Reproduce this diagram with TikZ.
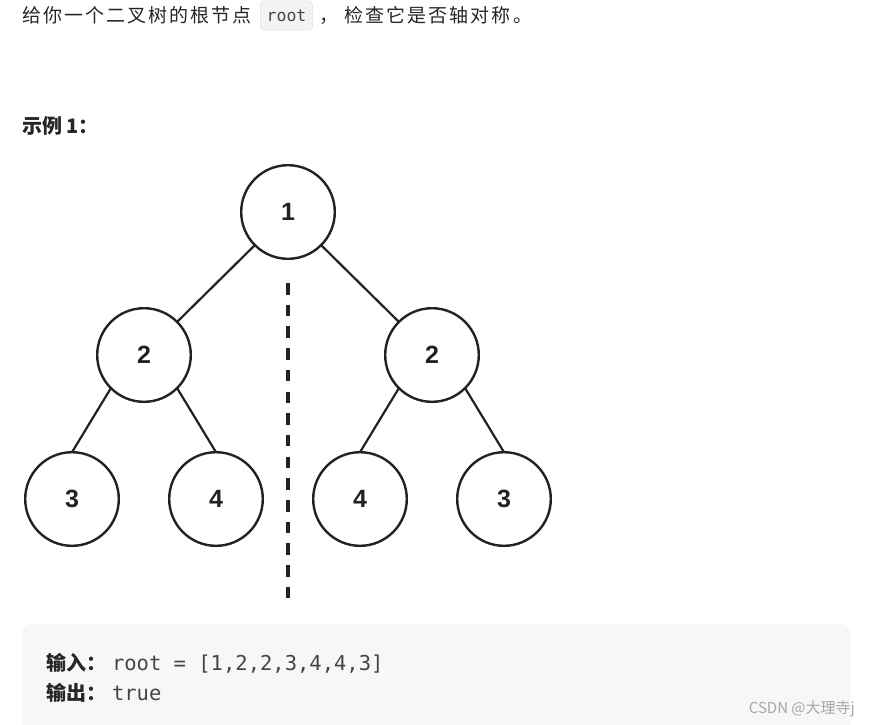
\documentclass[tikz,border=0pt]{standalone}
\usepackage{fontspec}
\setmainfont{Liberation Sans}
\newfontfamily\cjk[LetterSpace=11]{Noto Sans CJK SC}
\newfontfamily\cjkplain{Noto Sans CJK SC}
\newfontfamily\monof{DejaVu Sans Mono}
\definecolor{txt}{HTML}{262626}
\definecolor{boxbg}{HTML}{F7F7F7}
\definecolor{codebg}{HTML}{F3F3F3}
\definecolor{codeln}{HTML}{E6E6E6}
\definecolor{codetxt}{HTML}{454545}
\definecolor{wm}{HTML}{A6A6A6}
\definecolor{ink}{HTML}{222222}
\begin{document}
\begin{tikzpicture}[x=1pt,y=-1pt,
  tn/.style={circle, draw=ink, line width=2.4pt, fill=white, minimum size=93.6pt,
    inner sep=0pt, outer sep=0pt, text=ink, font=\fontsize{25}{25}\selectfont\bfseries},
  edge/.style={draw=ink, line width=2.2pt},
  symline/.style={draw=ink, line width=4pt, dash pattern=on 11.5pt off 10.2pt},
  cn/.style={inner sep=0pt, outer sep=0pt, anchor=base west, text=txt},
]
\useasboundingbox (0,0) rectangle (869,724);
\clip (0,0) rectangle (869,724);
\fill[white] (0,0) rectangle (869,724);

% top line
\node[cn, font=\cjk\fontsize{19}{19}\selectfont] (t1) at (22,22) {给你一个二叉树的根节点};
\node[fill=codebg, draw=codeln, line width=0.6pt, rounded corners=4pt, minimum width=52pt, minimum height=29pt,
  inner sep=0pt, text=codetxt, font=\monof\fontsize{16.5}{16.5}\selectfont] (code) at (286.5,15.5) {root};
\node[cn, font=\cjk\fontsize{19}{19}\selectfont] (t2) at (319,22) {， 检查它是否轴对称。};

% example title
\node[cn, font=\cjkplain\fontsize{20}{20}\selectfont\bfseries] (ex) at (22,133) {示例 1：};

% tree
\node[tn] (r) at (288,212) {1};
\node[tn] (l) at (144,355) {2};
\node[tn] (rr) at (432,355) {2};
\node[tn] (ll) at (72,499) {3};
\node[tn] (lr) at (216,499) {4};
\node[tn] (rl) at (360,499) {4};
\node[tn] (rrr) at (504,499) {3};

\draw[edge] (r.south west) -- (l.north east);
\draw[edge] (r.south east) -- (rr.north west);
\draw[edge] (l.south west) -- (ll.north);
\draw[edge] (l.south east) -- (lr.north);
\draw[edge] (rr.south west) -- (rl.north);
\draw[edge] (rr.south east) -- (rrr.north);

\coordinate (dtop) at (288,283);
\coordinate (dbot) at (288,599);
\draw[symline] (dtop) -- (dbot);

% example box
\fill[boxbg, rounded corners=9pt] (22,624) rectangle (850,760);
\node[cn, font=\cjkplain\fontsize{20}{20}\selectfont\bfseries] (in) at (46,670) {输入：};
\node[cn, text=codetxt, font=\monof\fontsize{20.5}{20.5}\selectfont] (inv) at (112,670) {root = [1,2,2,3,4,4,3]};
\node[cn, font=\cjkplain\fontsize{20}{20}\selectfont\bfseries] (out) at (46,700) {输出：};
\node[cn, text=codetxt, font=\monof\fontsize{20.5}{20.5}\selectfont] (outv) at (112,700) {true};

% watermark
\node[inner sep=0pt, anchor=base east, text=wm, font=\cjkplain\fontsize{15}{15}\selectfont] (wmk) at (855,713) {CSDN @大理寺j};
\end{tikzpicture}
\end{document}
